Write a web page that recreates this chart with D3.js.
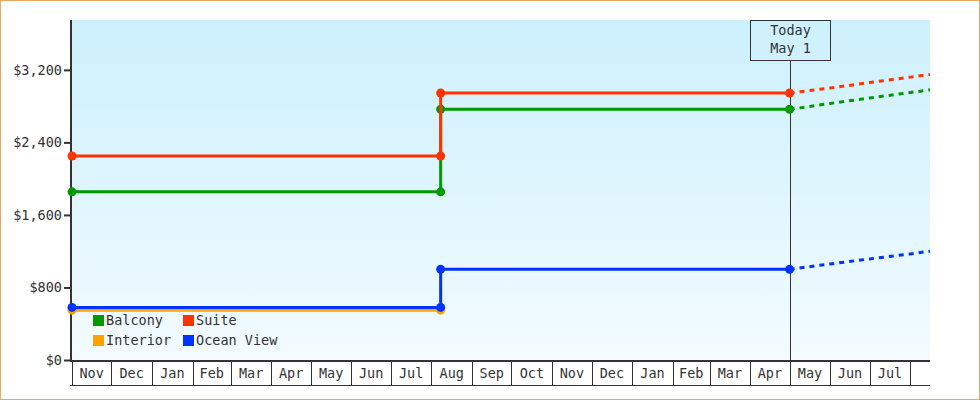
<!DOCTYPE html>
<html>
<head>
    <meta charset='utf-8'>
    <title>Cabin Prices</title>
    <style>
        body { margin: 0; background: #fff; }
        svg { display: block; }
        text { font-family: "DejaVu Sans Mono", monospace; font-size: 13.5px; fill: #333; }
    </style>
</head>
<body>
<svg width="980" height="400"></svg>
<script src="https://d3js.org/d3.v7.min.js"></script>
<script>
    const width = 980
    const height = 400
    const margin = ({top: 20, right: 50, bottom: 40, left: 72})

    // price history (step points) and forecast after today
    const stepDates = ["2023-11-01", "2024-08-08", "2024-08-08", "2025-05-01"]
    const balcony = [1855, 1855, 2765, 2765]
    const suite = [2250, 2250, 2945, 2945]
    const interior = [550, 550]
    const oceanView = [580, 580, 1000, 1000]

    const forecastDates = ["2025-05-01", "2025-06-01", "2025-07-01", "2025-08-01", "2025-08-16"]
    const balconyForecast = [2765, 2830, 2890, 2950, 2980]
    const suiteForecast = [2945, 3000, 3060, 3120, 3150]
    const oceanViewForecast = [1000, 1060, 1115, 1170, 1200]

    const yTicks = [0, 800, 1600, 2400, 3200]
    const xStart = "2023-11-01"
    const xEnd = "2025-08-16"
    const today = "2025-05-01"
    const todayLabel = ["Today", "May 1"]

    const parse = d3.utcParse("%Y-%m-%d")

    const series = [
        {name: "Balcony", color: "#009900", values: balcony, forecast: balconyForecast},
        {name: "Suite", color: "#ff3300", values: suite, forecast: suiteForecast},
        {name: "Interior", color: "#ffa200", values: interior, forecast: null},
        {name: "Ocean View", color: "#0033ff", values: oceanView, forecast: oceanViewForecast}
    ]

    const x = d3.scaleUtc()
        .domain([parse(xStart), parse(xEnd)])
        .range([margin.left, width - margin.right])

    const y = d3.scaleLinear()
        .domain([0, 3750])
        .range([height - margin.bottom, margin.top])

    const svg = d3.select("svg")

    // orange frame
    svg.append("rect")
        .attr("x", 0.5).attr("y", 0.5)
        .attr("width", width - 1).attr("height", height - 1)
        .attr("fill", "#fff")
        .attr("stroke", "#e8a862")

    const grad = svg.append("defs").append("linearGradient")
        .attr("id", "bg")
        .attr("x1", 0).attr("y1", 0).attr("x2", 0).attr("y2", 1)
    grad.append("stop").attr("offset", "0%").attr("stop-color", "#ccf0fc")
    grad.append("stop").attr("offset", "100%").attr("stop-color", "#f3fbff")

    svg.append("rect")
        .attr("x", x.range()[0])
        .attr("y", y.range()[1])
        .attr("width", x.range()[1] - x.range()[0])
        .attr("height", y.range()[0] - y.range()[1])
        .attr("fill", "url(#bg)")

    // y axis
    svg.append("g")
        .attr("transform", `translate(${margin.left - 2},0)`)
        .call(d3.axisLeft(y).tickValues(yTicks).tickFormat(d3.format("$,")).tickSize(6).tickPadding(2))
        .call(g => g.select(".domain").remove())
        .call(g => g.selectAll("line").attr("stroke", "#333").attr("stroke-width", 2))
        .call(g => g.selectAll("text").attr("font-family", null).attr("font-size", null).attr("fill", null))

    svg.append("line")
        .attr("x1", margin.left - 1).attr("x2", margin.left - 1)
        .attr("y1", y.range()[1]).attr("y2", y.range()[0] + 1)
        .attr("stroke", "#333").attr("stroke-width", 2)

    // month cells along the bottom
    const cellTop = y.range()[0]
    const cellBottom = cellTop + 25
    const months = d3.utcMonth.range(x.domain()[0], x.domain()[1])
    const axisG = svg.append("g").attr("shape-rendering", "crispEdges")

    axisG.append("line")
        .attr("x1", margin.left - 2).attr("x2", x.range()[1])
        .attr("y1", cellTop + 0.5).attr("y2", cellTop + 0.5)
        .attr("stroke", "#333").attr("stroke-width", 2)
    axisG.append("line")
        .attr("x1", margin.left - 2).attr("x2", x.range()[1])
        .attr("y1", cellBottom + 0.5).attr("y2", cellBottom + 0.5)
        .attr("stroke", "#333")

    axisG.selectAll(".divider")
        .data(months)
        .join("line")
        .attr("class", "divider")
        .attr("x1", d => Math.round(x(d)) + 0.5).attr("x2", d => Math.round(x(d)) + 0.5)
        .attr("y1", cellTop).attr("y2", cellBottom)
        .attr("stroke", "#333")

    svg.append("g")
        .selectAll("text")
        .data(months.filter(d => d3.utcMonth.offset(d, 1) <= x.domain()[1]))
        .join("text")
        .attr("x", d => (x(d) + x(d3.utcMonth.offset(d, 1))) / 2)
        .attr("y", cellTop + 18)
        .attr("text-anchor", "middle")
        .text(d3.utcFormat("%b"))

    // today marker
    const tx = Math.round(x(parse(today))) + 0.5
    svg.append("line")
        .attr("x1", tx).attr("x2", tx)
        .attr("y1", margin.top + 40).attr("y2", cellTop)
        .attr("stroke", "#333")
    svg.append("rect")
        .attr("x", tx - 40).attr("y", margin.top + 0.5)
        .attr("width", 80).attr("height", 40)
        .attr("fill", "none").attr("stroke", "#333")
    svg.append("g")
        .selectAll("text")
        .data(todayLabel)
        .join("text")
        .attr("x", tx)
        .attr("y", (d, i) => margin.top + 15 + i * 18)
        .attr("text-anchor", "middle")
        .text(d => d)

    const line = d3.line()
        .x(d => x(d[0]))
        .y(d => y(d[1]))

    const plot = svg.append("g")

    // forecasts (dashed)
    series.filter(s => s.forecast).forEach(s => {
        plot.append("path")
            .datum(forecastDates.map((d, i) => [parse(d), s.forecast[i]]))
            .attr("fill", "none")
            .attr("stroke", s.color)
            .attr("stroke-width", 3)
            .attr("stroke-dasharray", "5,5")
            .attr("d", line)
    })

    // history lines, drawn so that Ocean View sits on top of Interior
    const order = ["Interior", "Balcony", "Ocean View", "Suite"]
    order.map(n => series.find(s => s.name === n)).forEach(s => {
        const pts = s.values.map((v, i) => [parse(stepDates[i]), v])
        plot.append("path")
            .datum(pts)
            .attr("fill", "none")
            .attr("stroke", s.color)
            .attr("stroke-width", 3)
            .attr("d", line)

        plot.append("g")
            .attr("fill", s.color)
            .selectAll("circle")
            .data(pts)
            .join("circle")
            .attr("cx", d => x(d[0]))
            .attr("cy", d => y(d[1]))
            .attr("r", 4.5)
    })

    // legend
    const legend = svg.append("g")
        .attr("transform", "translate(93,315)")
    const legendPos = [[0, 0], [90, 0], [0, 20], [90, 20]]
    series.forEach((s, i) => {
        const g = legend.append("g")
            .attr("transform", `translate(${legendPos[i][0]},${legendPos[i][1]})`)
        g.append("rect")
            .attr("width", 11).attr("height", 11)
            .attr("fill", s.color)
        g.append("text")
            .attr("x", 13)
            .attr("y", 10)
            .text(s.name)
    })
</script>
</body>
</html>
